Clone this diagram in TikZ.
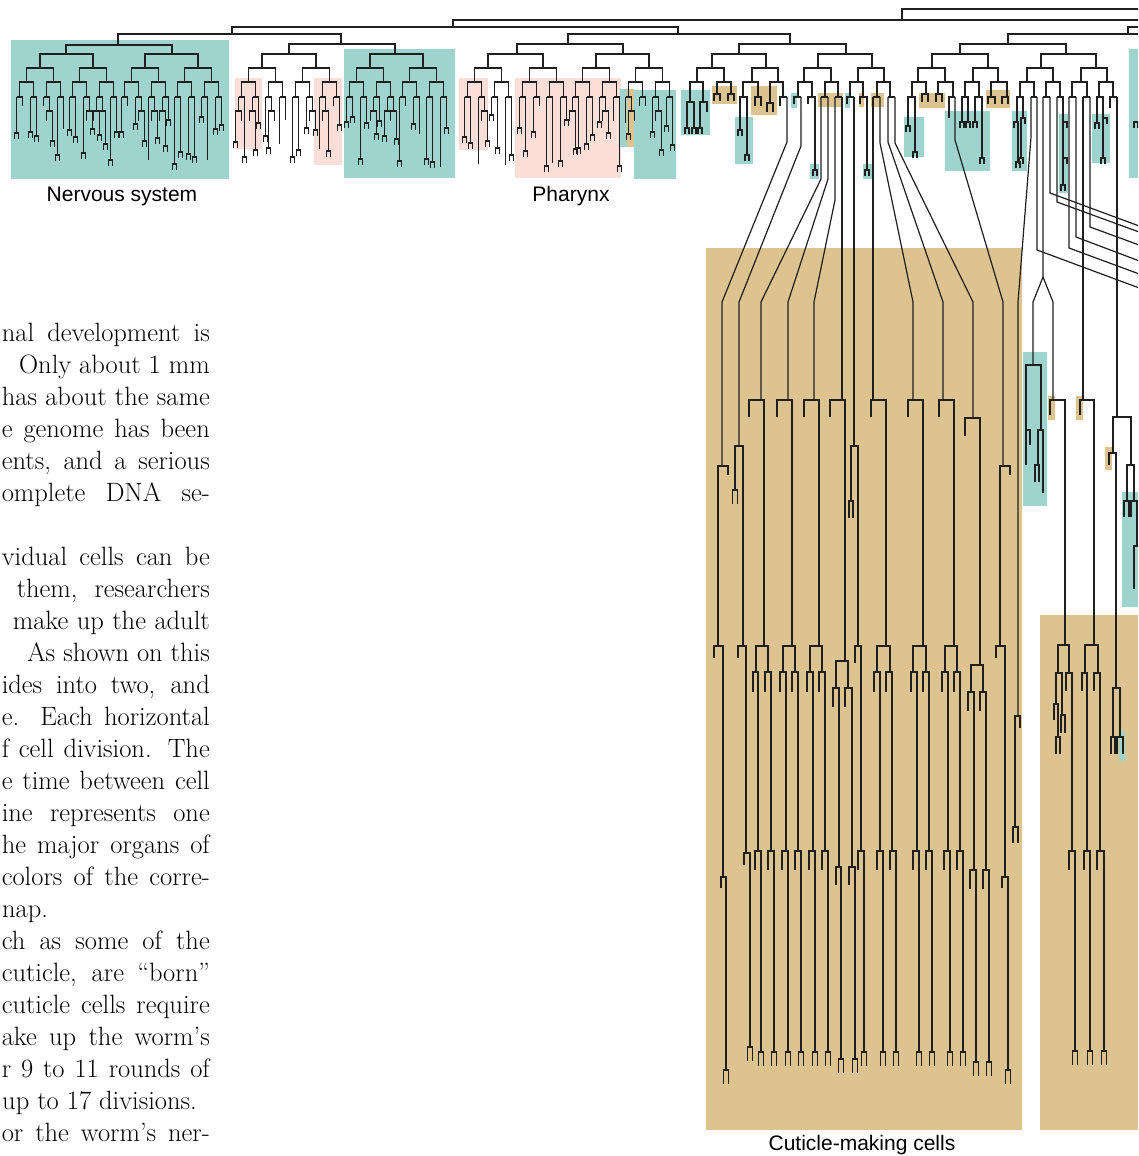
\documentclass[tikz,border=0pt]{standalone}
\usepackage{fontspec}
\setsansfont{Liberation Sans}

\definecolor{nerve}{HTML}{9FD3CE}
\definecolor{gut}{HTML}{FCDED8}
\definecolor{skin}{HTML}{DCC38F}

\tikzset{
  lin/.style={line width=1.2pt, draw=black!88},
  organ/.style={font=\sffamily\fontsize{21}{24}\selectfont, anchor=base, inner sep=0pt},
  prose/.style={font=\fontsize{26.5}{32}\selectfont, anchor=base east, inner sep=0pt}
}

% one division: left x, right x, bar y, left end y, right end y
\newcommand\lfork[5]{\draw[lin] (#1,#4) |- (#2,#3) -- (#2,#5);}
% small last divisions
\newcommand\ltip[2]{\draw[lin] (#1-2,#2+6) |- (#1+2,#2) -- (#1+2,#2+6);}
\newcommand\lend[2]{\draw[lin] (#1-2.5,#2+14) |- (#1+2.5,#2) -- (#1+2.5,#2+14);}
% justified line of the page text
\newcommand\jline[2][208pt]{\makebox[#1][s]{#2}}
% short irregular endings under the dense part
\newcommand\ltail[2]{%
  \pgfmathrandominteger{\tk}{0}{9}%
  \pgfmathrandominteger{\tl}{18}{40}%
  \pgfmathrandominteger{\tm}{46}{70}%
  \ifcase\tk\relax
    \draw[lin] (#1,#2) -- (#1,#2+9);%
  \or
    \draw[lin] (#1,#2) -- (#1,#2+\tl);\ltip{#1}{#2+\tl}%
  \or
    \draw[lin] (#1,#2) -- (#1,#2+\tl);\ltip{#1}{#2+\tl}%
  \or
    \draw[lin] (#1,#2) -- (#1,#2+\tl);\ltip{#1}{#2+\tl}%
  \or
    \draw[lin] (#1,#2) -- (#1,#2+\tm);\ltip{#1}{#2+\tm}%
  \or
    \draw[lin] (#1,#2) -- (#1,#2+\tm);\ltip{#1}{#2+\tm}%
  \or
    \draw[lin] (#1,#2) -- (#1,#2+\tm);%
  \or
    \draw[lin] (#1,#2) -- (#1,#2+14);%
    \draw[lin] (#1-3,#2+14+\tl) |- (#1+3,#2+14) -- (#1+3,#2+24);\ltip{#1-3}{#2+14+\tl}%
  \or
    \draw[lin] (#1,#2) -- (#1,#2+14);%
    \draw[lin] (#1-3,#2+24) |- (#1+3,#2+14) -- (#1+3,#2+14+\tl);\ltip{#1+3}{#2+14+\tl}%
  \else
    \draw[lin] (#1,#2) -- (#1,#2+\tl);%
  \fi}

\begin{document}
\begin{tikzpicture}[x=1pt,y=-1pt]
\useasboundingbox (0,0) rectangle (1138,1156);
\clip (0,0) rectangle (1138,1156);

% organ boxes
\fill[nerve] (11,40) rectangle (229,179);
\fill[gut] (235,78) rectangle (262,149);
\fill[gut] (314,78) rectangle (342,165);
\fill[nerve] (344,49) rectangle (455,178);
\fill[gut] (459,78) rectangle (488,150);
\fill[gut] (515,78) rectangle (621,178);
\fill[nerve] (620,89) rectangle (627,147);
\fill[skin] (627,89) rectangle (634,147);
\fill[nerve] (634,90) rectangle (676,179);
\fill[nerve] (681,90) rectangle (710,135);
\fill[skin] (712,86) rectangle (737,104);
\fill[nerve] (735,117) rectangle (753,164);
\fill[skin] (751,86) rectangle (777,115);
\fill[nerve] (791,93) rectangle (797,108);
\fill[nerve] (810,164) rectangle (819,179);
\fill[skin] (818,93) rectangle (843,107);
\fill[nerve] (845,93) rectangle (850,108);
\fill[skin] (859,93) rectangle (864,107);
\fill[nerve] (863,164) rectangle (872,179);
\fill[skin] (871,93) rectangle (884,107);
\fill[nerve] (904,117) rectangle (924,157);
\fill[skin] (919,93) rectangle (945,108);
\fill[nerve] (945,111) rectangle (990,171);
\fill[skin] (986,90) rectangle (1010,108);
\fill[nerve] (1012,111) rectangle (1027,171);
\fill[nerve] (1059,114) rectangle (1068,193);
\fill[nerve] (1092,114) rectangle (1110,163);
\fill[nerve] (1129,49) rectangle (1138,178);
\fill[skin] (706,248) rectangle (1022,1130);
\fill[skin] (1040,615) rectangle (1138,1130);
\fill[nerve] (1023,352) rectangle (1047,506);
\fill[skin] (1048,396) rectangle (1055,420);
\fill[skin] (1076,396) rectangle (1083,420);
\fill[skin] (1105,447) rectangle (1112,470);
\fill[nerve] (1122,492) rectangle (1138,607);
\fill[nerve] (1119,731) rectangle (1125,761);

% upper levels
\draw[lin] (902,20) |- (1150,9);
\draw[lin] (453,27) |- (1150,20);
\lfork{232}{678}{27}{34}{34}
\draw[lin] (1128,34) |- (1150,27);
\lfork{118}{341}{34}{45}{44}
\lfork{568}{790}{34}{44}{44}
\draw[lin] (1008,44) |- (1150,34);
\lfork{66}{172}{45}{54}{54}
\lfork{289}{395}{44}{54}{54}
\lfork{517}{623}{44}{54}{54}
\lfork{739}{846}{44}{54}{54}
\lfork{960}{1066}{44}{54}{54}
\lfork{40}{93}{54}{68}{68}
\lfork{145}{198}{54}{68}{68}
\lfork{262}{316}{54}{68}{68}
\lfork{370}{423}{54}{68}{68}
\lfork{488}{543}{54}{68}{68}
\lfork{596}{649}{54}{68}{68}
\lfork{712}{766}{54}{68}{68}
\lfork{818}{872}{54}{68}{68}
\lfork{932}{988}{54}{68}{68}
\lfork{1041}{1096}{54}{68}{68}

% dense left part
\pgfmathsetseed{11}
\foreach \c in {40,93,145,198,262,316,370,423,488,543,596,649}{
  \lfork{\c-13.5}{\c+13.5}{68}{82}{82}
  \foreach \s in {-13.5,13.5}{
    \pgfmathsetmacro\d{\c+\s}
    \lfork{\d-7}{\d+7}{82}{97}{97}
    \foreach \t in {-7,7}{
      \pgfmathsetmacro\e{\d+\t}
      \draw[lin] (\e-3,97) -- (\e+3,97);
      \ltail{\e-3}{97}\ltail{\e+3}{97}
    }
  }
}

% middle and right, level 6 and 7
\lfork{697}{724}{68}{82}{82}
\lfork{752}{778}{68}{82}{82}
\lfork{804}{831}{68}{82}{82}
\lfork{858}{884}{68}{82}{82}
\lfork{918}{945}{68}{82}{82}
\lfork{973}{998}{68}{82}{82}
\lfork{1027}{1053}{68}{82}{82}
\lfork{1081}{1107}{68}{82}{82}
\lfork{690}{703}{82}{102}{102}
\lfork{717}{731}{82}{94}{94}
\lfork{743}{758}{82}{97}{97}
\lfork{770}{783}{82}{103}{97}
\lfork{798}{812}{82}{97}{97}
\lfork{825}{838}{82}{97}{97}
\lfork{850}{863}{82}{97}{97}
\lfork{877}{890}{82}{97}{97}
\lfork{912}{926}{82}{97}{94}
\lfork{938}{953}{82}{94}{97}
\lfork{965}{979}{82}{97}{97}
\lfork{991}{1007}{82}{97}{97}
\lfork{1020}{1034}{82}{97}{97}
\lfork{1046}{1060}{82}{97}{97}
\lfork{1072}{1087}{82}{97}{97}
\lfork{1099}{1113}{82}{97}{97}

% level 8 and short endings
\lfork{687}{694}{102}{128}{128}
\ltip{687}{128}
\ltip{694}{128}
\lfork{700}{707}{102}{128}{112}
\ltip{700}{128}
\lfork{714}{720}{94}{101}{101}
\lfork{728}{734}{94}{101}{101}
\lfork{740}{747}{97}{130}{155}
\ltip{740}{130}
\ltip{747}{155}
\lfork{755}{761}{97}{106}{106}
\lfork{767}{773}{103}{112}{112}
\lfork{780}{787}{97}{106}{97}
\lfork{794}{801}{97}{104}{97}
\lfork{808}{815}{97}{104}{170}
\ltip{815}{170}
\lfork{821}{828}{97}{97}{97}
\lfork{835}{842}{97}{97}{97}
\lfork{847}{854}{97}{104}{97}
\lfork{860}{867}{97}{104}{170}
\ltip{867}{170}
\lfork{873}{880}{97}{97}{97}
\lfork{888}{895}{97}{97}{97}
\lfork{908}{915}{97}{126}{152}
\ltip{908}{126}
\ltip{915}{152}
\lfork{922}{928}{94}{102}{102}
\lfork{936}{942}{94}{102}{102}
\lfork{949}{955}{97}{118}{97}
\lfork{962}{968}{97}{122}{122}
\ltip{962}{122}
\ltip{968}{122}
\lfork{975}{982}{97}{122}{158}
\ltip{975}{122}
\ltip{982}{158}
\lfork{988}{995}{97}{104}{104}
\lfork{1002}{1008}{97}{104}{104}
\lfork{1017}{1023}{97}{122}{118}
\lfork{1014}{1018}{122}{128}{162}
\ltip{1018}{162}
\lfork{1021}{1025}{118}{158}{124}
\ltip{1021}{158}
\lfork{1031}{1037}{97}{97}{97}
\lfork{1043}{1050}{97}{97}{97}
\lfork{1057}{1063}{97}{97}{185}
\ltip{1063}{185}
\draw[lin] (1063,122) -| (1067,128);
\draw[lin] (1063,158) -| (1067,164);
\lfork{1069}{1076}{97}{97}{97}
\lfork{1083}{1090}{97}{97}{97}
\lfork{1097}{1103}{97}{123}{158}
\ltip{1097}{123}
\ltip{1103}{158}
\draw[lin] (1103,118) -| (1107,124);
\lfork{1110}{1117}{97}{108}{97}
\ltip{1136}{122}

% lines running off to the right
\draw[lin] (1050,97) -- (1050,193) -- (1150,230);
\draw[lin] (1057,97) -- (1057,202) -- (1150,236);
\draw[lin] (1090,97) -- (1090,227) -- (1150,249);
\draw[lin] (1076,97) -- (1076,237) -- (1150,265);
\draw[lin] (1069,97) -- (1069,248) -- (1150,278);
\draw[lin] (1037,97) -- (1037,250) -- (1150,292);

% cuticle lineages, left block
\draw[lin] (787,97) -- (787,142) -- (722,302) -- (722,466);
\lfork{718}{728}{466}{646}{475}
\lfork{714}{723}{646}{658}{877}
\lfork{721}{726}{877}{888}{1070}
\lend{726}{1070}

\draw[lin] (801,97) -- (801,146) -- (739,302) -- (739,446);
\lfork{735}{743}{446}{490}{646}
\lend{735}{490}
\lfork{738}{746}{646}{658}{853}
\lfork{744}{750}{853}{865}{1047}
\lend{750}{1047}

\draw[lin] (821,97) -- (821,179) -- (761,302) -- (761,400);
\lfork{749}{764}{400}{417}{646}
\lfork{756}{768}{646}{672}{672}
\lfork{753}{758}{672}{692}{851}
\lfork{765}{771}{672}{692}{851}
\lfork{755}{761}{851}{870}{1052}
\lend{761}{1052}
\lfork{768}{774}{851}{870}{1052}
\lend{774}{1052}

\draw[lin] (828,97) -- (828,179) -- (788,302) -- (788,400);
\lfork{777}{792}{400}{417}{646}
\lfork{783}{795}{646}{672}{672}
\lfork{780}{786}{672}{692}{851}
\lfork{792}{798}{672}{692}{851}
\lfork{782}{788}{851}{870}{1052}
\lend{788}{1052}
\lfork{795}{801}{851}{870}{1052}
\lend{801}{1052}

\draw[lin] (835,97) -- (835,200) -- (814,302) -- (814,400);
\lfork{804}{819}{400}{417}{646}
\lfork{810}{822}{646}{672}{672}
\lfork{807}{813}{672}{692}{851}
\lfork{819}{825}{672}{692}{851}
\lfork{809}{815}{851}{870}{1052}
\lend{815}{1052}
\lfork{822}{828}{851}{870}{1052}
\lend{828}{1052}

\draw[lin] (842,97) -- (842,400);
\lfork{830}{845}{400}{417}{661}
\lfork{836}{848}{661}{688}{688}
\lfork{833}{839}{688}{707}{867}
\lfork{845}{852}{688}{707}{867}
\lfork{836}{841}{867}{885}{1059}
\lend{841}{1059}
\lfork{849}{855}{867}{885}{1059}
\lend{855}{1059}

\draw[lin] (854,97) -- (854,446);
\lfork{851}{858}{446}{501}{646}
\lfork{849}{853}{501}{518}{518}
\lfork{855}{861}{646}{663}{851}
\lfork{858}{864}{851}{870}{1052}
\lend{864}{1052}

\draw[lin] (873,97) -- (873,400);
\lfork{871}{886}{400}{417}{646}
\lfork{877}{890}{646}{672}{672}
\lfork{874}{880}{672}{692}{851}
\lfork{886}{892}{672}{692}{851}
\lfork{877}{883}{851}{870}{1052}
\lend{883}{1052}
\lfork{890}{896}{851}{870}{1052}
\lend{896}{1052}

\draw[lin] (880,97) -- (880,143) -- (913,302) -- (913,400);
\lfork{908}{923}{400}{417}{646}
\lfork{913}{926}{646}{672}{672}
\lfork{911}{917}{672}{692}{851}
\lfork{923}{929}{672}{692}{851}
\lfork{913}{919}{851}{870}{1052}
\lend{919}{1052}
\lfork{926}{932}{851}{870}{1052}
\lend{932}{1052}

\draw[lin] (888,97) -- (888,142) -- (943,302) -- (943,400);
\lfork{939}{954}{400}{417}{646}
\lfork{945}{957}{646}{672}{672}
\lfork{942}{948}{672}{692}{851}
\lfork{954}{960}{672}{692}{851}
\lfork{944}{950}{851}{870}{1052}
\lend{950}{1052}
\lfork{957}{963}{851}{870}{1052}
\lend{963}{1052}

\draw[lin] (895,97) -- (895,143) -- (973,302) -- (973,418);
\lfork{965}{980}{418}{436}{665}
\lfork{971}{983}{665}{692}{692}
\lfork{968}{974}{692}{711}{870}
\lfork{980}{986}{692}{711}{870}
\lfork{970}{976}{870}{889}{1062}
\lend{976}{1062}
\lfork{983}{989}{870}{889}{1062}
\lend{989}{1062}

\draw[lin] (955,97) -- (955,140) -- (1003,302) -- (1003,466);
\lfork{1000}{1010}{466}{646}{475}
\lfork{996}{1005}{646}{658}{877}
\lfork{1002}{1008}{877}{888}{1070}
\lend{1008}{1070}

\draw[lin] (1031,97) -- (1031,137) -- (1018,302) -- (1018,716);
\lfork{1015}{1020}{716}{827}{728}
\lfork{1013}{1018}{827}{843}{843}

% right part
\draw[lin] (1043,97) -- (1043,277) -- (1033,302) -- (1033,365);
\draw[lin] (1043,277) -- (1053,302) -- (1053,400);
\lfork{1026}{1041}{365}{430}{430}
\lfork{1026}{1030}{430}{465}{445}
\lfork{1038}{1043}{430}{465}{493}
\lfork{1035}{1039}{465}{482}{482}
\lfork{1050}{1065}{400}{415}{645}
\draw[lin] (1083,97) -- (1083,400);
\lfork{1080}{1094}{400}{415}{645}
\draw[lin] (1117,97) -- (1117,417);
\lfork{1113}{1131}{417}{453}{465}
\lfork{1109}{1116}{453}{465}{688}
\lfork{1127}{1134}{465}{501}{501}
\lfork{1124}{1129}{501}{517}{517}
\lfork{1131}{1137}{501}{517}{546}
\lfork{1134}{1140}{546}{589}{589}

\lfork{1058}{1069}{645}{673}{673}
\lfork{1056}{1062}{673}{704}{715}
\lfork{1054}{1058}{704}{720}{737}
\lfork{1056}{1060}{737}{754}{754}
\lfork{1061}{1065}{715}{733}{733}
\lfork{1066}{1072}{673}{691}{851}
\lfork{1069}{1075}{851}{870}{1051}
\lend{1075}{1051}
\lfork{1085}{1098}{645}{673}{673}
\lfork{1082}{1087}{673}{691}{851}
\lfork{1084}{1090}{851}{870}{1051}
\lend{1090}{1051}
\lfork{1094}{1100}{673}{691}{851}
\lfork{1097}{1104}{851}{870}{1051}
\lend{1104}{1051}
\lfork{1113}{1120}{688}{737}{737}
\lfork{1111}{1115}{737}{754}{754}
\lfork{1117}{1123}{737}{754}{754}

% labels
\node[organ] (nerv) at (122,201) {Nervous system};
\node[organ] (phar) at (571,201) {Pharynx};
\node[organ] (cuti) at (862,1150) {Cuticle-making cells};

% page text beside the figure
\node[prose] (p0) at (210,341) {\jline{nal development is}};
\node[prose] (p1) at (210,373) {Only about 1 mm};
\node[prose] (p2) at (210,405) {\jline{has about the same}};
\node[prose] (p3) at (210,437) {\jline{e genome has been}};
\node[prose] (p4) at (210,469) {\jline{ents, and a serious}};
\node[prose] (p5) at (210,501) {\jline{omplete DNA se-}};
\node[prose] (p7) at (210,565) {\jline{vidual cells can be}};
\node[prose] (p8) at (210,597) {\jline[193pt]{them, researchers}};
\node[prose] (p9) at (210,629) {\jline[197pt]{make up the adult}};
\node[prose] (p10) at (210,661) {As shown on this};
\node[prose] (p11) at (210,693) {\jline{ides into two, and}};
\node[prose] (p12) at (210,725) {\jline{e. Each horizontal}};
\node[prose] (p13) at (210,757) {\jline{f cell division. The}};
\node[prose] (p14) at (210,789) {\jline{e time between cell}};
\node[prose] (p15) at (210,821) {\jline{ine represents one}};
\node[prose] (p16) at (210,853) {\jline{he major organs of}};
\node[prose] (p17) at (210,885) {\jline{colors of the corre-}};
\node[prose, anchor=base west] (p18) at (2,917) {nap.};
\node[prose] (p19) at (210,949) {\jline{ch as some of the}};
\node[prose] (p20) at (210,981) {\jline{cuticle, are ``born''}};
\node[prose] (p21) at (210,1013) {\jline{cuticle cells require}};
\node[prose] (p22) at (210,1045) {\jline{ake up the worm’s}};
\node[prose] (p23) at (210,1077) {\jline{r 9 to 11 rounds of}};
\node[prose] (p24) at (197,1109) {up to 17 divisions.};
\node[prose] (p25) at (210,1141) {\jline{or the worm’s ner-}};
\end{tikzpicture}
\end{document}
